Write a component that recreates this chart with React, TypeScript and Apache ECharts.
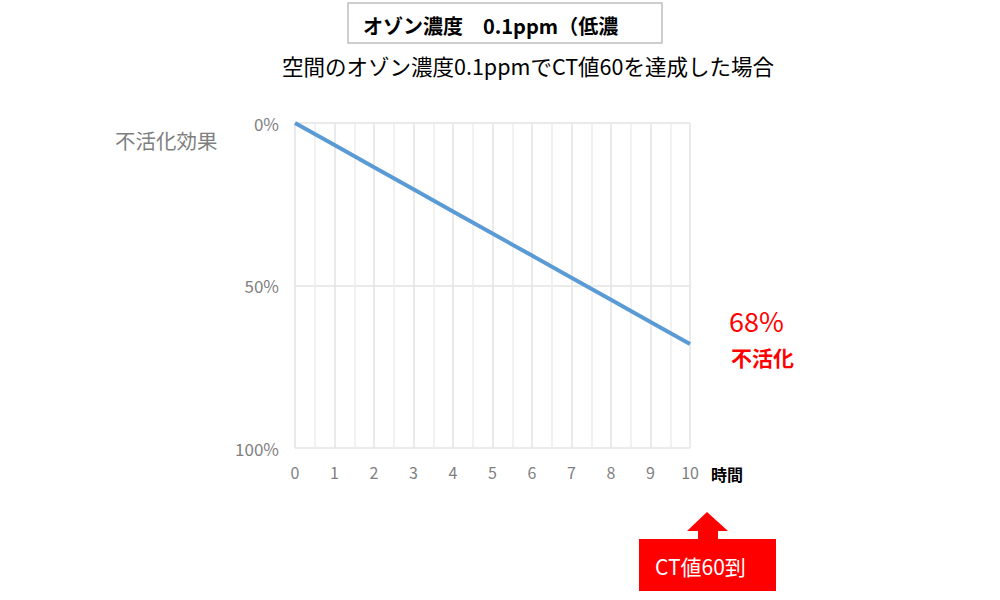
import React, { useEffect, useRef } from "react";
import * as echarts from "echarts";

const hours = [0, 1, 2, 3, 4, 5, 6, 7, 8, 9, 10];
const inactivation = [0, 6.8, 13.6, 20.4, 27.2, 34, 40.8, 47.6, 54.4, 61.2, 68];
const yTicks = [0, 50, 100];
const titleText = "オゾン濃度　0.1ppm（低濃";
const subtitleText = "空間のオゾン濃度0.1ppmでCT値60を達成した場合";
const yAxisTitle = "不活化効果";
const xAxisTitle = "時間";
const resultPct = "68%";
const resultLabel = "不活化";
const arrowLabel = "CT値60到";

const FONT = "'Noto Sans CJK JP', 'Noto Sans', sans-serif";

export default function App() {
  const ref = useRef<HTMLDivElement>(null);
  useEffect(() => {
    const chart = echarts.init(ref.current!, null, { renderer: "svg" });
    chart.setOption({
      animation: false,
      backgroundColor: "#ffffff",
      grid: { left: 295, top: 123, right: 310, bottom: 152 },
      xAxis: {
        type: "value",
        min: 0,
        max: 10,
        interval: 1,
        axisLine: { show: false },
        axisTick: { show: false },
        axisLabel: { color: "#7f7f7f", fontSize: 16, margin: 16, fontFamily: FONT },
        splitLine: { show: true, lineStyle: { color: "#e3e3e3", width: 1.5 } },
        minorTick: { show: false, splitNumber: 2 },
        minorSplitLine: { show: true, lineStyle: { color: "#ececec", width: 1.5 } },
      },
      yAxis: {
        type: "value",
        min: 0,
        max: 100,
        interval: 50,
        inverse: true,
        axisLine: { show: false },
        axisTick: { show: false },
        axisLabel: {
          color: "#7f7f7f",
          fontSize: 17,
          margin: 16,
          fontFamily: FONT,
          formatter: (v: number) => (yTicks.includes(v) ? v + "%" : ""),
        },
        splitLine: { show: true, lineStyle: { color: "#e3e3e3", width: 1.5 } },
      },
      series: [
        {
          type: "line",
          data: hours.map((h, i) => [h, inactivation[i]]),
          showSymbol: false,
          lineStyle: { color: "#5b9bd5", width: 4 },
        },
      ],
      graphic: [
        {
          type: "rect",
          shape: { x: 348, y: 3, width: 314, height: 40 },
          style: { fill: "#fff", stroke: "#bfbfbf", lineWidth: 1.5 },
        },
        {
          type: "text",
          x: 363,
          y: 25,
          style: {
            text: titleText,
            font: `bold 20px ${FONT}`,
            fill: "#000",
            textVerticalAlign: "middle",
          },
        },
        {
          type: "text",
          x: 528,
          y: 65,
          style: {
            text: subtitleText,
            font: `21.5px ${FONT}`,
            fill: "#000",
            textAlign: "center",
            textVerticalAlign: "middle",
          },
        },
        {
          type: "text",
          x: 115,
          y: 140,
          style: {
            text: yAxisTitle,
            font: `20.5px ${FONT}`,
            fill: "#7f7f7f",
            textVerticalAlign: "middle",
          },
        },
        {
          type: "text",
          x: 711,
          y: 474,
          style: {
            text: xAxisTitle,
            font: `bold 16px ${FONT}`,
            fill: "#000",
            textVerticalAlign: "middle",
          },
        },
        {
          type: "text",
          x: 729,
          y: 320,
          style: {
            text: resultPct,
            font: `27px ${FONT}`,
            fill: "#ff0000",
            textVerticalAlign: "middle",
          },
        },
        {
          type: "text",
          x: 731,
          y: 357,
          style: {
            text: resultLabel,
            font: `bold 21px ${FONT}`,
            fill: "#ff0000",
            textVerticalAlign: "middle",
          },
        },
        {
          type: "polygon",
          shape: {
            points: [
              [707, 512],
              [728, 531],
              [718, 531],
              [718, 540],
              [698, 540],
              [698, 531],
              [687, 531],
            ],
          },
          style: { fill: "#ff0000" },
        },
        {
          type: "rect",
          shape: { x: 639, y: 539, width: 137, height: 52 },
          style: { fill: "#ff0000" },
        },
        {
          type: "text",
          x: 655,
          y: 566,
          style: {
            text: arrowLabel,
            font: `21px ${FONT}`,
            fill: "#ffffff",
            textVerticalAlign: "middle",
          },
        },
      ],
    });
    return () => chart.dispose();
  }, []);
  return <div ref={ref} style={{ width: 1000, height: 600, position: "absolute", left: 0, top: 0 }} />;
}
